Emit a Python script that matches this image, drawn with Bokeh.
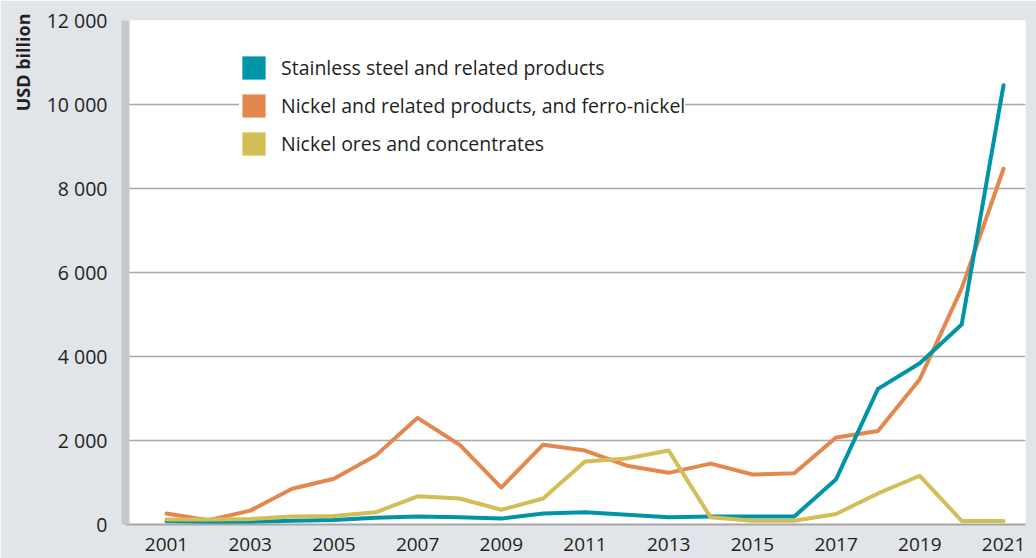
from bokeh.plotting import figure
from bokeh.models import (ColumnDataSource, Range1d, FixedTicker, CustomJSTickFormatter,
                          Legend, LegendItem, Title)
from bokeh.embed import file_html
from bokeh.resources import INLINE

years = list(range(2001, 2022))
stainless = [80, 60, 60, 90, 110, 160, 190, 170, 140, 260, 290, 230, 170, 190, 190, 190, 1080, 3230, 3840, 4760, 10460]
nickel = [260, 100, 330, 850, 1090, 1640, 2540, 1900, 880, 1900, 1760, 1400, 1230, 1450, 1190, 1220, 2070, 2225, 3460, 5620, 8470]
ores = [120, 120, 130, 190, 200, 290, 670, 620, 350, 620, 1500, 1570, 1760, 170, 90, 90, 250, 740, 1160, 85, 85]

x_ticks = list(range(2001, 2022, 2))
y_ticks = list(range(0, 12001, 2000))
labels = ["Stainless steel and related products",
          "Nickel and related products, and ferro-nickel",
          "Nickel ores and concentrates"]
colors = ["#0094a9", "#e4874f", "#d3bd55"]

FONT = "Open Sans"
TXT = "#231f20"
BG = "#e1e4e8"

src = ColumnDataSource(dict(year=years, stainless=stainless, nickel=nickel, ores=ores))

p = figure(width=1036, height=558, output_backend="svg", toolbar_location=None,
           x_range=Range1d(2000.02, 2021.525), y_range=Range1d(0, 12000),
           min_border_left=124, min_border_right=11, min_border_top=20, min_border_bottom=34)
p.border_fill_color = BG
p.background_fill_color = "white"
p.outline_line_color = None

r_nickel = p.line("year", "nickel", source=src, line_color=colors[1], line_width=4,
                  line_join="round", line_cap="round")
r_st = p.line("year", "stainless", source=src, line_color=colors[0], line_width=4,
              line_join="round", line_cap="round")
r_ore = p.line("year", "ores", source=src, line_color=colors[2], line_width=4,
               line_join="round", line_cap="round")

# legend swatches: zero-area quads (nothing visible in the plot), used only for the legend
sw = []
for c in colors:
    sw.append(p.quad(left="year", right="year", top=0, bottom=0, source=src,
                     fill_color=c, line_color=None))

legend = Legend(items=[LegendItem(label=l, renderers=[r]) for l, r in zip(labels, sw)],
                location=(114, 366))
legend.glyph_width = 29
legend.glyph_height = 29
legend.label_height = 23
legend.spacing = 9
legend.padding = 9
legend.margin = 0
legend.label_standoff = 13
legend.label_text_font = FONT
legend.label_text_font_size = "19.5px"
legend.label_text_color = TXT
legend.border_line_color = None
legend.background_fill_color = "white"
legend.background_fill_alpha = 1
p.add_layout(legend)

# axes
p.xaxis.ticker = FixedTicker(ticks=x_ticks)
p.xaxis.major_tick_line_color = None
p.xaxis.minor_tick_line_color = None
p.xaxis.axis_line_color = "#a6a6a6"
p.xaxis.axis_line_width = 2
p.xaxis.major_label_text_font = FONT
p.xaxis.major_label_text_font_size = "19px"
p.xaxis.major_label_text_color = TXT
p.xaxis.major_label_standoff = 7

p.yaxis.ticker = FixedTicker(ticks=y_ticks)
p.yaxis.formatter = CustomJSTickFormatter(code="return tick.toLocaleString('en-US').replace(/,/g, ' ');")
p.yaxis.major_tick_line_color = None
p.yaxis.minor_tick_line_color = None
p.yaxis.axis_line_color = "#c4c8cc"
p.yaxis.axis_line_width = 8
p.yaxis.major_label_text_font = FONT
p.yaxis.major_label_text_font_size = "19.5px"
p.yaxis.major_label_text_color = TXT
p.yaxis.major_label_standoff = 12

p.xgrid.grid_line_color = None
p.ygrid.ticker = FixedTicker(ticks=y_ticks)
p.ygrid.grid_line_color = "#a8a8a8"
p.ygrid.grid_line_width = 1.3

t = Title(text="USD billion", align="right", text_font=FONT, text_font_size="18px",
          text_font_style="bold", text_color=TXT, standoff=17, offset=-7)
p.add_layout(t, "left")

open("out.html", "w").write(file_html(p, INLINE))
